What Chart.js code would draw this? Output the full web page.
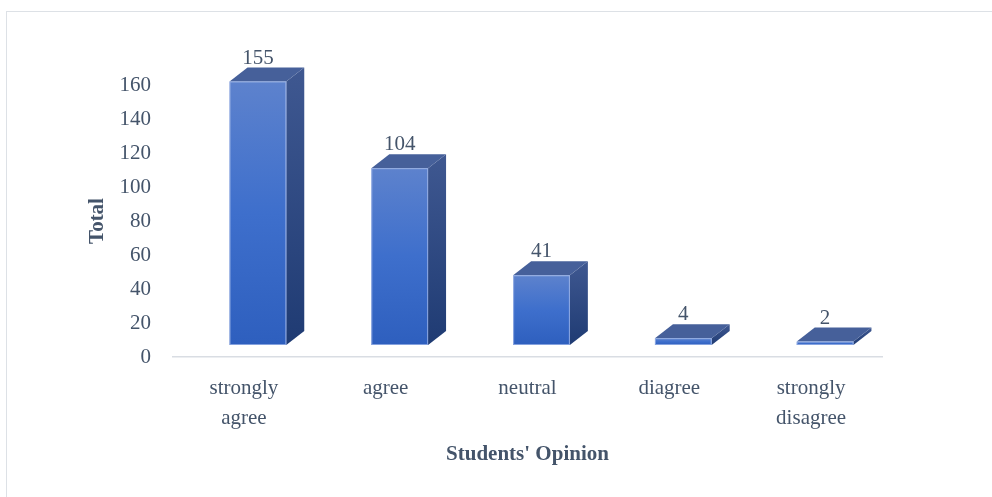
<!DOCTYPE html>
<html>
<head>
<meta charset="utf-8">
<script src="https://cdn.jsdelivr.net/npm/chart.js@4.4.1/dist/chart.umd.min.js"></script>
<style>
  html, body { margin: 0; padding: 0; background: #fff; overflow: hidden; }
  #frame { position: absolute; left: 6px; top: 11px; width: 1010px; height: 520px; border: 1.5px solid #dde1e6; }
  #wrap { position: absolute; left: 0; top: 0; width: 992px; height: 497px; }
</style>
</head>
<body>
<div id="frame"></div>
<div id="wrap"><canvas id="opinionChart" width="992" height="497"></canvas></div>
<script>
var categories = [['strongly', 'agree'], 'agree', 'neutral', 'diagree', ['strongly', 'disagree']];
var totals = [155, 104, 41, 4, 2];
var yTicks = [0, 20, 40, 60, 80, 100, 120, 140, 160];

var textColor = '#44546a';
var fontFamily = "'Liberation Serif', 'Times New Roman', serif";

// fake 3d bars drawn on top of the (invisible) chart.js bars
var bars3d = {
    id: 'bars3d',
    afterDatasetsDraw: function (chart) {
        var ctx = chart.ctx;
        var meta = chart.getDatasetMeta(0);
        var ox = 14, oy = -12, dx = 18, dy = 14;
        ctx.save();
        meta.data.forEach(function (bar, i) {
            var p = bar.getProps(['x', 'y', 'base', 'width'], true);
            var left = p.x - p.width / 2 + ox;
            var right = left + p.width;
            var top = p.y + oy;
            var bottom = p.base + oy;

            // side face
            var sg = ctx.createLinearGradient(0, top - dy, 0, bottom);
            sg.addColorStop(0, '#3f5891');
            sg.addColorStop(1, '#1f3b73');
            ctx.fillStyle = sg;
            ctx.beginPath();
            ctx.moveTo(right, top);
            ctx.lineTo(right + dx, top - dy);
            ctx.lineTo(right + dx, bottom - dy);
            ctx.lineTo(right, bottom);
            ctx.closePath();
            ctx.fill();

            // top face
            ctx.fillStyle = '#46609a';
            ctx.beginPath();
            ctx.moveTo(left, top);
            ctx.lineTo(left + dx, top - dy);
            ctx.lineTo(right + dx, top - dy);
            ctx.lineTo(right, top);
            ctx.closePath();
            ctx.fill();

            // front face
            var fg = ctx.createLinearGradient(0, top, 0, bottom);
            fg.addColorStop(0, '#5d82cd');
            fg.addColorStop(0.5, '#3e6fcc');
            fg.addColorStop(1, '#2e5fbe');
            ctx.fillStyle = fg;
            ctx.fillRect(left, top, right - left, bottom - top);
            ctx.strokeStyle = 'rgba(170,190,235,0.7)';
            ctx.lineWidth = 1;
            ctx.strokeRect(left + 0.5, top + 0.5, right - left - 1, bottom - top - 1);

            // value label
            ctx.fillStyle = textColor;
            ctx.font = '21px ' + fontFamily;
            ctx.textAlign = 'center';
            ctx.textBaseline = 'alphabetic';
            ctx.fillText(String(totals[i]), (left + right) / 2, top - dy - 4);
        });
        ctx.restore();
    }
};

var ctx = document.getElementById('opinionChart').getContext('2d');

var opinionChart = new Chart(ctx, {
    type: 'bar',
    data: {
        labels: categories,
        datasets: [{
            label: 'Total',
            data: totals,
            backgroundColor: 'rgba(0,0,0,0)',
            borderWidth: 0,
            categoryPercentage: 1,
            barPercentage: 0.4
        }]
    },
    options: {
        responsive: false,
        animation: false,
        layout: {
            padding: { left: 80, top: 85, right: 110, bottom: 0 }
        },
        plugins: {
            legend: { display: false },
            tooltip: { enabled: false }
        },
        scales: {
            x: {
                grid: { display: false, drawTicks: false },
                border: { display: true, color: '#d9dde3', width: 1.5 },
                ticks: {
                    color: textColor,
                    padding: 17,
                    maxRotation: 0,
                    font: { family: fontFamily, size: 21, lineHeight: 1.4 }
                },
                title: {
                    display: true,
                    text: "Students' Opinion",
                    color: textColor,
                    padding: { top: 0, bottom: 30 },
                    font: { family: fontFamily, size: 21, weight: 'bold', lineHeight: 1.2 }
                },
                afterFit: function (scale) { scale.height = 140; }
            },
            y: {
                min: 0,
                max: 160,
                grid: { display: false, drawTicks: false },
                border: { display: false },
                afterBuildTicks: function (scale) {
                    scale.ticks = yTicks.map(function (v) { return { value: v }; });
                },
                ticks: {
                    color: textColor,
                    padding: 22,
                    font: { family: fontFamily, size: 21 }
                },
                title: {
                    display: true,
                    text: 'Total',
                    color: textColor,
                    padding: { top: 5, bottom: 0 },
                    font: { family: fontFamily, size: 21, weight: 'bold', lineHeight: 1.2 }
                },
                afterFit: function (scale) { scale.width = 93; }
            }
        }
    },
    plugins: [bars3d]
});
</script>
</body>
</html>
